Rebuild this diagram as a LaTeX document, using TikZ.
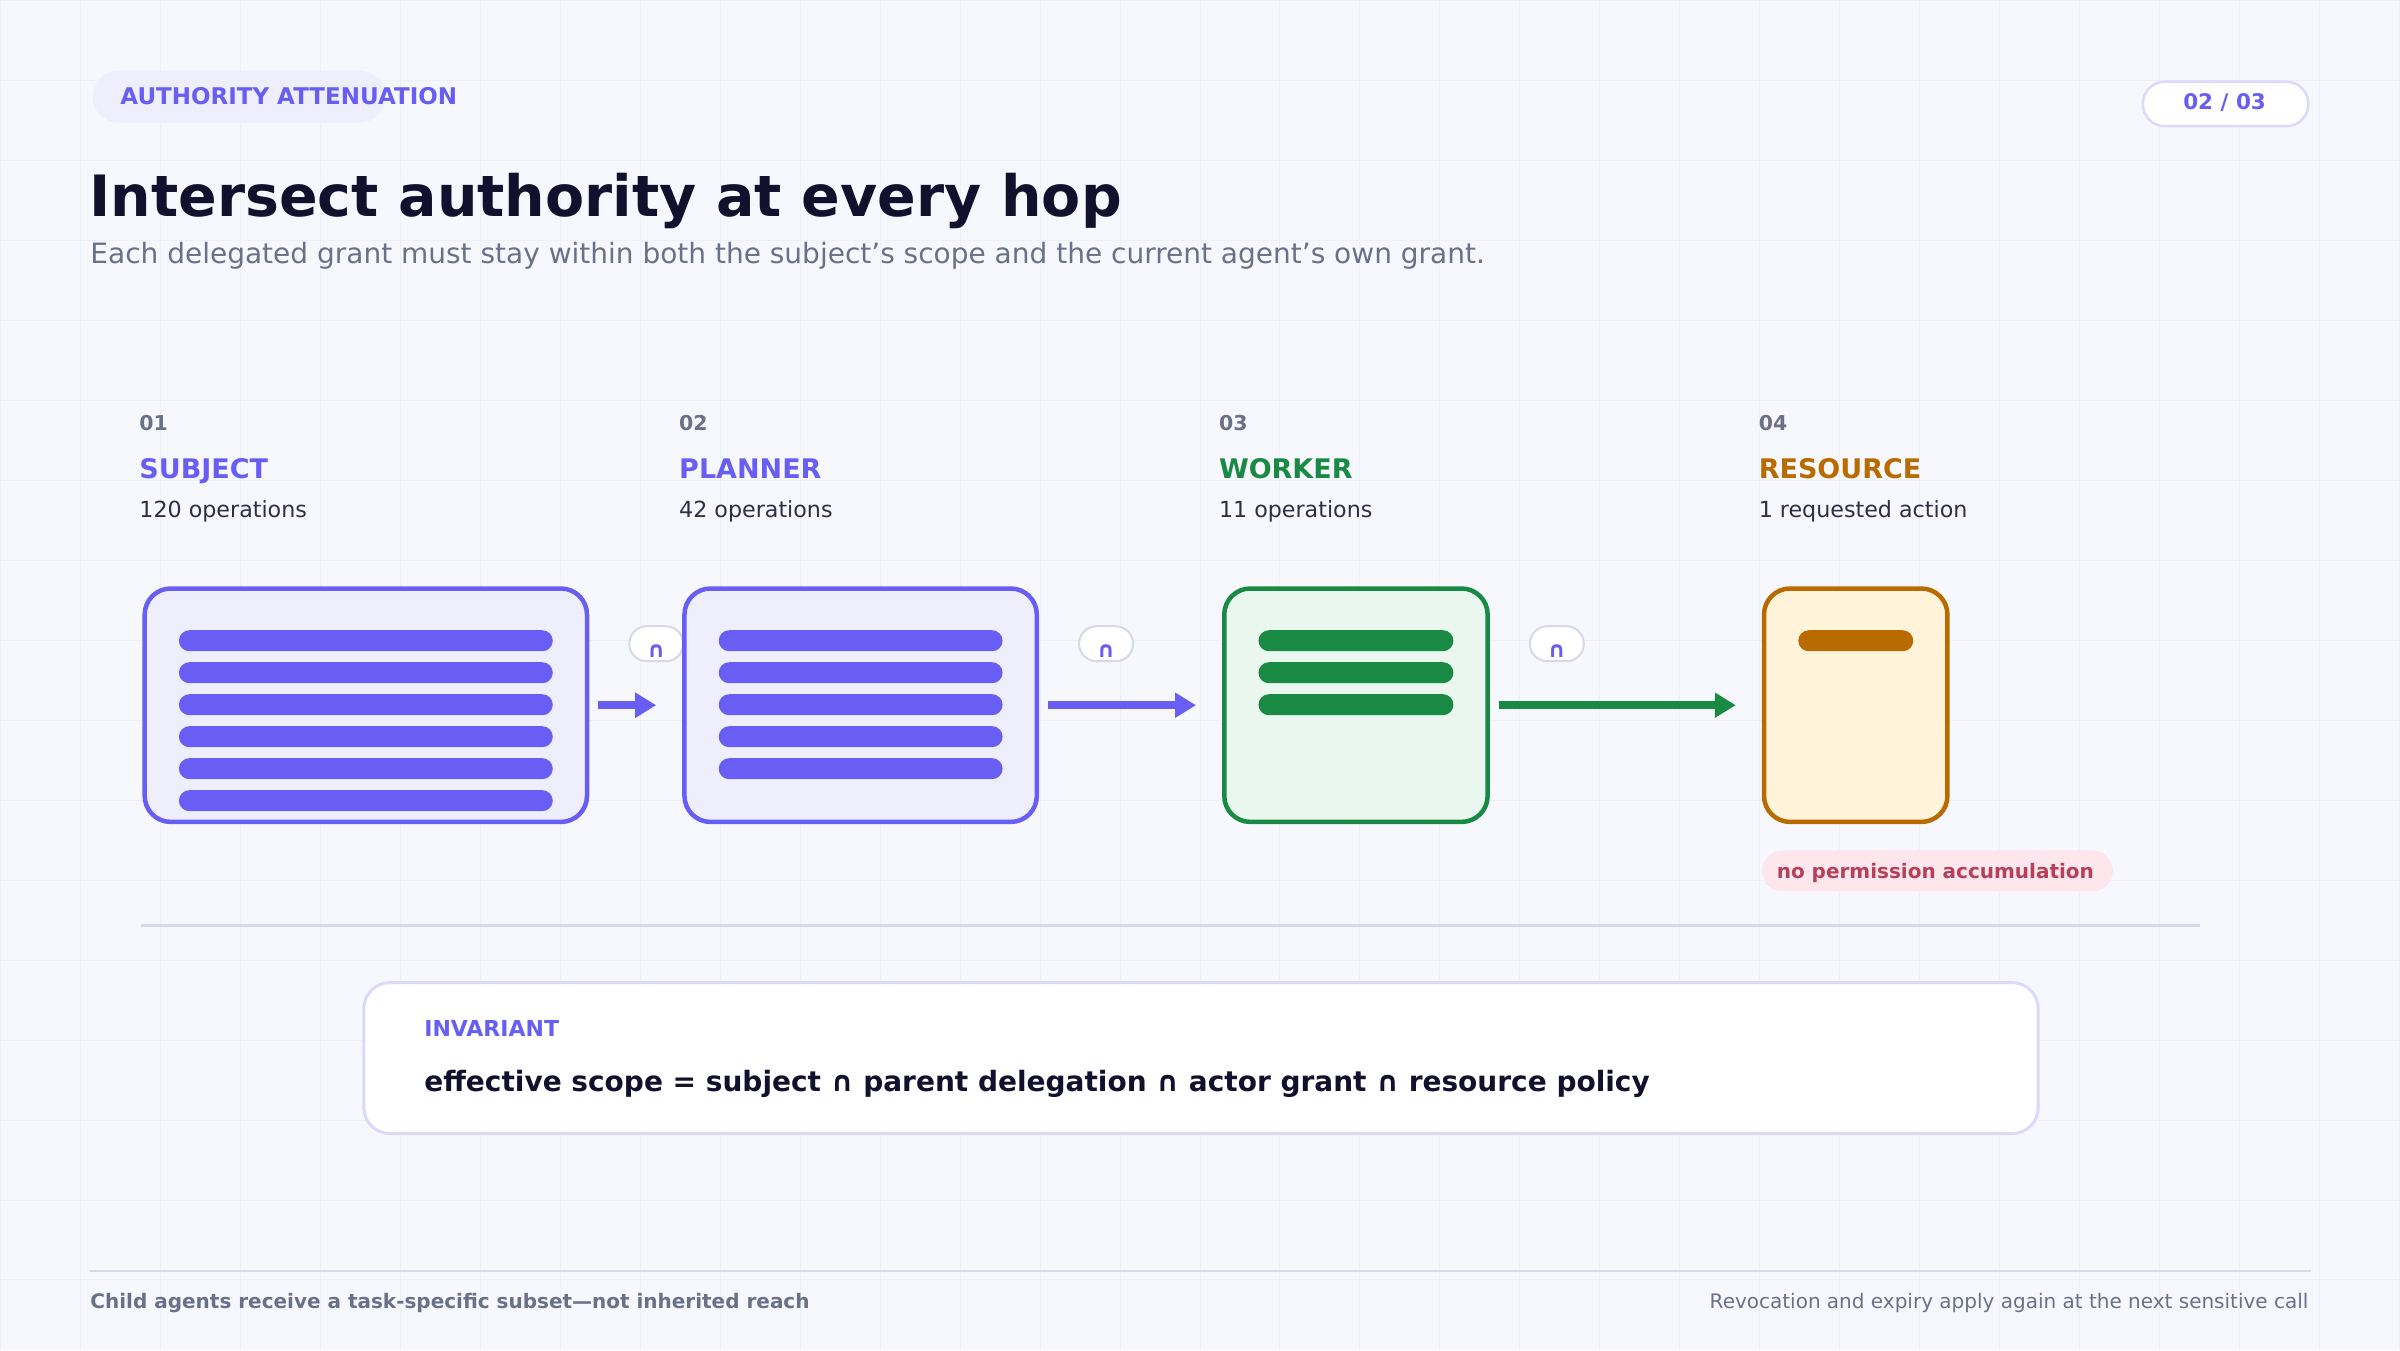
\documentclass[tikz,border=0pt]{standalone}
\usepackage{fontspec}
\setmainfont{DejaVu Sans}
\usetikzlibrary{calc,arrows.meta}

\definecolor{paper}{HTML}{F7F8FE}
\definecolor{gridc}{HTML}{EDEFFA}
\definecolor{indigo}{HTML}{685EF4}
\definecolor{indigoFill}{HTML}{EFEEFD}
\definecolor{lavender}{HTML}{DCD9FB}
\definecolor{leaf}{HTML}{188A44}
\definecolor{leafFill}{HTML}{EAF7EE}
\definecolor{amber}{HTML}{B86B00}
\definecolor{amberFill}{HTML}{FFF4D9}
\definecolor{rose}{HTML}{B83F5C}
\definecolor{roseFill}{HTML}{FDE7EC}
\definecolor{ink}{HTML}{11112E}
\definecolor{slate}{HTML}{6B7089}
\definecolor{body}{HTML}{2D2F45}
\definecolor{capline}{HTML}{D7D9E8}
\definecolor{rule}{HTML}{D6D9EA}

\pgfdeclarelayer{back}
\pgfdeclarelayer{mid}
\pgfsetlayers{back,mid,main}

\begin{document}
\begin{tikzpicture}[
        %We work in pixels, y pointing down, and define some styles
        x=1pt, y=-1pt,
        gridline/.style={draw=gridc, line width=1pt},
        txt/.style={anchor=base west, inner sep=0pt, outer sep=0pt},
        card/.style={rounded corners=26pt, line width=4.5pt, anchor=north west,
            minimum height=233.5pt, inner sep=0pt},
        bar/.style={rounded corners=10.5pt},
        flow/.style={line width=8.5pt, -{Triangle[length=21pt,width=24pt]},
            shorten <=9pt, shorten >=26pt},
        andpill/.style={draw=capline, line width=2pt, fill=white, rounded corners=17.5pt,
            minimum width=54pt, minimum height=35pt, inner sep=0pt},
        andsym/.style={inner sep=0pt, text=indigo, font=\fontsize{22}{22}\selectfont\bfseries}
     ]
    % page and grid
    \begin{pgfonlayer}{back}
        \fill[paper] (0,0) rectangle (2400,1350);
        \foreach \gx in {0,80,...,2400}
            \draw[gridline] (\gx,0) -- (\gx,1350);
        \foreach \gy in {0,80,...,1280}
            \draw[gridline] (0,\gy) -- (2400,\gy);
    \end{pgfonlayer}
    \useasboundingbox (0,0) rectangle (2400,1350);

    % header
    \node[fill=indigoFill, rounded corners=26pt, minimum width=293pt, minimum height=52pt,
        anchor=north west, inner sep=0pt] (tag) at (92,70) {};
    \node[txt, text=indigo, font=\fontsize{23}{23}\selectfont\bfseries] (tagtext) at (120,104)
        {AUTHORITY ATTENUATION};
    \node[draw=lavender, line width=2.5pt, fill=white, rounded corners=22pt, minimum width=165.5pt,
        minimum height=44.5pt, anchor=north west, inner sep=0pt] (page) at (2142,80) {};
    \node[anchor=base, inner sep=0pt, text=indigo, font=\fontsize{21.5}{21.5}\selectfont\bfseries]
        (pagetext) at (2225,109) {02 / 03};
    \node[txt, text=ink, font=\fontsize{57}{57}\selectfont\bfseries] (title) at (89,216)
        {Intersect authority at every hop};
    \node[txt, text=slate, font=\fontsize{28}{28}\selectfont] (subtitle) at (90,263)
        {Each delegated grant must stay within both the subject’s scope and the current agent’s own grant.};

    % column labels
    \foreach \i/\num/\name/\col/\ops in {0/01/SUBJECT/indigo/120 operations,
            1/02/PLANNER/indigo/42 operations, 2/03/WORKER/leaf/11 operations,
            3/04/RESOURCE/amber/1 requested action}
    {
        \node[txt, text=slate, font=\fontsize{20.5}{20.5}\selectfont\bfseries] (num\i) at (139+540*\i,430) {\num};
        \node[txt, text=\col, font=\fontsize{27}{27}\selectfont\bfseries] (name\i) at (139+540*\i,478) {\name};
        \node[txt, text=body, font=\fontsize{22.2}{22.2}\selectfont] (ops\i) at (139+540*\i,517) {\ops};
    }

    % scope cards
    \node[card, draw=indigo, fill=indigoFill, minimum width=442.5pt] (subj) at (142,586) {};
    \node[card, draw=indigo, fill=indigoFill, minimum width=352.5pt] (plan) at (682,586) {};
    \node[card, draw=leaf, fill=leafFill, minimum width=263.5pt] (work) at (1222,586) {};
    \node[card, draw=amber, fill=amberFill, minimum width=183.5pt] (res) at (1762,586) {};

    % one bar per granted slice
    \foreach \cardname/\n/\col in {subj/5/indigo, plan/4/indigo, work/2/leaf, res/0/amber}
        \foreach \k in {0,...,\n}
            \fill[bar, \col] ($(\cardname.north west)+(36.5,44+32*\k)$)
                rectangle ($(\cardname.north east)+(-36.5,65+32*\k)$);

    % hops with intersection marks (marks sit under the cards)
    \foreach \a/\b/\col/\j in {subj/plan/indigo/1, plan/work/indigo/2, work/res/leaf/3}
    {
        \draw[flow, \col] (\a.east) -- (\b.west);
        \begin{pgfonlayer}{mid}
            \node[andpill] (and\j) at ($(\a.east)+(67,-61.5)$) {};
            \node[andsym] (andsym\j) at ($(and\j)+(0,7)$) {∩};
        \end{pgfonlayer}
    }

    % no accumulation note
    \node[fill=roseFill, rounded corners=20.5pt, minimum width=351pt, minimum height=41pt,
        anchor=north west, inner sep=0pt] (warn) at (1762,850) {};
    \node[txt, text=rose, font=\fontsize{20}{20}\selectfont\bfseries] (warntext) at (1777,878)
        {no permission accumulation};

    % divider
    \coordinate (ruleL) at (141,925);
    \coordinate (ruleR) at (2200,925);
    \draw[rule, line width=3pt] (ruleL) -- (ruleR);

    % invariant
    \node[draw=lavender, line width=3pt, fill=white, rounded corners=26pt, minimum width=1675pt,
        minimum height=151pt, anchor=north west, inner sep=0pt] (inv) at (362,981) {};
    \node[txt, text=indigo, font=\fontsize{22}{22}\selectfont\bfseries] (invlabel) at (424,1036)
        {INVARIANT};
    \node[txt, text=ink, font=\fontsize{28}{28}\selectfont\bfseries] (formula) at (424,1091)
        {effective scope = subject ∩ parent delegation ∩ actor grant ∩ resource policy};

    % footer
    \coordinate (footL) at (90,1271);
    \coordinate (footR) at (2311,1271);
    \draw[rule, line width=2pt] (footL) -- (footR);
    \node[txt, text=slate, font=\fontsize{20}{20}\selectfont\bfseries] (footnote) at (90,1309)
        {Child agents receive a task-specific subset—not inherited reach};
    \node[anchor=base east, inner sep=0pt, text=slate, font=\fontsize{20}{20}\selectfont]
        (footright) at (2309,1309) {Revocation and expiry apply again at the next sensitive call};
\end{tikzpicture}
\end{document}
